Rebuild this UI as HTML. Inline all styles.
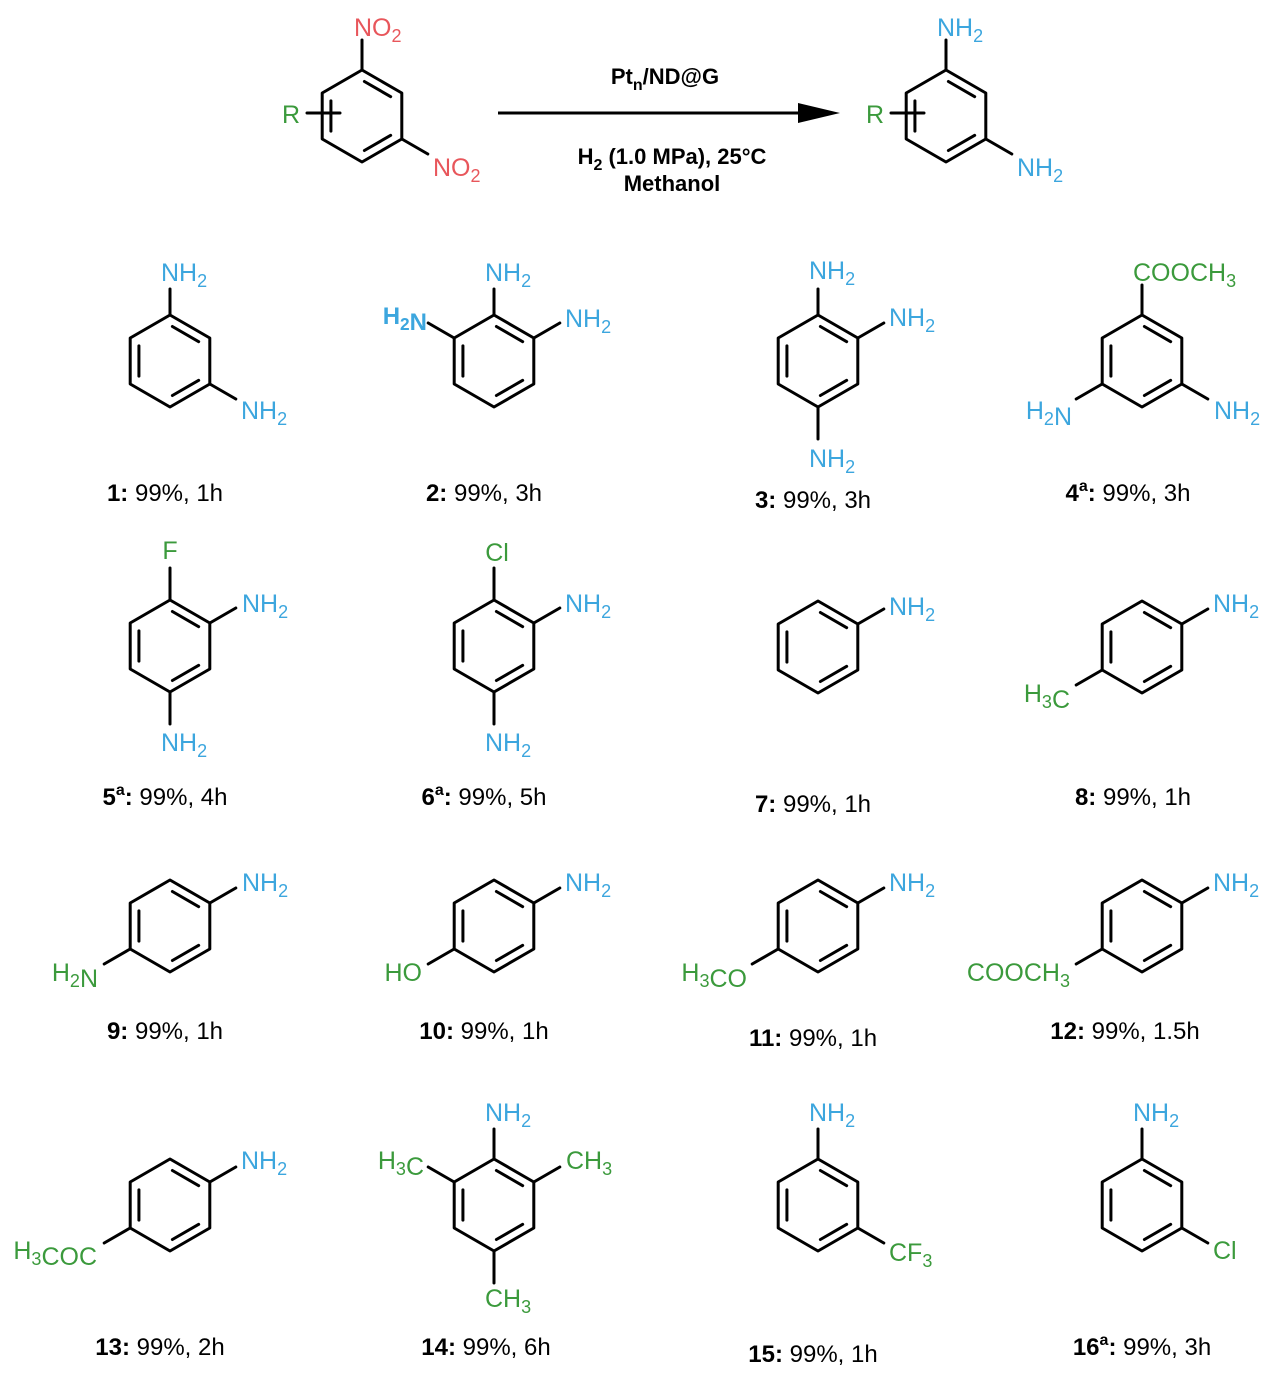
<!DOCTYPE html>
<html><head><meta charset="utf-8"><style>
html,body{margin:0;padding:0;background:#fff;}
svg{display:block;font-family:"Liberation Sans",Arial,sans-serif;}
</style></head><body>
<svg id="s" width="1278" height="1375" viewBox="0 0 1278 1375" xmlns="http://www.w3.org/2000/svg">
<line x1="498" y1="113" x2="803" y2="113" stroke="#000" stroke-width="3"/>
<path d="M798,103 L840,113 L798,123 Z" fill="#000"/>
<text x="665" y="84" font-size="22" font-weight="bold" text-anchor="middle">Pt<tspan font-size="16" dy="6">n</tspan><tspan dy="-6">/ND@G</tspan></text>
<text x="672" y="164" font-size="22" font-weight="bold" text-anchor="middle">H<tspan font-size="16" dy="6">2</tspan><tspan dy="-6"> (1.0 MPa), 25°C</tspan></text>
<text x="672" y="191" font-size="22" font-weight="bold" text-anchor="middle">Methanol</text>
<g id="g"></g>
</svg>
<script>
var B="#3ca6de",G="#3b9a3c",Rd="#e8565b";
var out="";
function L(x1,y1,x2,y2){out+='<line x1="'+x1+'" y1="'+y1+'" x2="'+x2+'" y2="'+y2+'" stroke="#000" stroke-width="3" stroke-linecap="round"/>';}
function V(cx,cy,i){var a=(-90+60*i)*Math.PI/180;return [cx+46*Math.cos(a),cy+46*Math.sin(a)];}
function ring(cx,cy,d){
  var pts=[];for(var i=0;i<6;i++)pts.push(V(cx,cy,i).map(function(v){return v.toFixed(1)}).join(','));
  out+='<polygon points="'+pts.join(' ')+'" fill="none" stroke="#000" stroke-width="3" stroke-linejoin="round"/>';
  (d||[0,2,4]).forEach(function(e){var a=V(cx,cy,e),b=V(cx,cy,(e+1)%6),k=0.78;
    L(cx+(a[0]-cx)*k+(b[0]-a[0])*0.06,cy+(a[1]-cy)*k+(b[1]-a[1])*0.06,cx+(b[0]-cx)*k-(b[0]-a[0])*0.06,cy+(b[1]-cy)*k-(b[1]-a[1])*0.06);});
}
function sub(cx,cy,i,len){var p=V(cx,cy,i),a=(-90+60*i)*Math.PI/180;L(p[0],p[1],p[0]+len*Math.cos(a),p[1]+len*Math.sin(a));}
function T(x,y,s,c,anc,fs,bold){fs=fs||25;
  var h='<text x="'+x+'" y="'+(y+9)+'" font-size="'+fs+'" fill="'+c+'" text-anchor="'+(anc||'start')+'"'+(bold?' font-weight="bold"':'')+'>';
  for(var i=0;i<s.length;i++){var ch=s[i];
    if(ch=='_'){h+='<tspan font-size="'+(fs*0.72)+'" dy="6">'+s[i+1]+'</tspan>';i++;h+='<tspan dy="-6"></tspan>';}
    else h+=ch;}
  out+=h+'</text>';}
function cap(x,y,n,rest){out+='<text x="'+x+'" y="'+(y+8)+'" font-size="24" text-anchor="middle"><tspan font-weight="bold">'+n+'</tspan>'+rest+'</text>';}
function capA(x,y,n,rest){out+='<text x="'+x+'" y="'+(y+8)+'" font-size="24" text-anchor="middle"><tspan font-weight="bold">'+n+'</tspan><tspan font-weight="bold" font-size="16" dy="-10">a</tspan><tspan dy="10" font-weight="bold">:</tspan>'+rest+'</text>';}

ring(362,116);sub(362,116,0,30);T(354,27,"NO_2",Rd);sub(362,116,2,30);T(433,167,"NO_2",Rd);
L(307,113,340,113);T(282,114,"R",G);
ring(946,116);sub(946,116,0,30);T(937,27,"NH_2",B);sub(946,116,2,30);T(1017,167,"NH_2",B);
L(891,113,924,113);T(866,114,"R",G);

ring(170,361);sub(170,361,0,26);T(161,272,"NH_2",B);sub(170,361,2,30);T(241,410,"NH_2",B);cap(165,493,"1:"," 99%, 1h");
ring(494,361);sub(494,361,0,26);T(485,272,"NH_2",B);sub(494,361,1,30);T(565,318,"NH_2",B);sub(494,361,5,30);T(427,315,"H_2N",B,"end",24,true);cap(484,493,"2:"," 99%, 3h");
ring(818,361);sub(818,361,0,26);T(809,270,"NH_2",B);sub(818,361,1,30);T(889,317,"NH_2",B);sub(818,361,3,32);T(809,458,"NH_2",B);cap(813,500,"3:"," 99%, 3h");
ring(1142,361);sub(1142,361,0,30);T(1133,272,"COOCH_3",G);sub(1142,361,4,30);T(1072,410,"H_2N",B,"end");sub(1142,361,2,30);T(1214,410,"NH_2",B);capA(1128,493,"4"," 99%, 3h");

ring(170,646);sub(170,646,0,32);T(170,550,"F",G,"middle");sub(170,646,1,30);T(242,603,"NH_2",B);sub(170,646,3,32);T(161,742,"NH_2",B);capA(165,797,"5"," 99%, 4h");
ring(494,646);sub(494,646,0,32);T(497,552,"Cl",G,"middle");sub(494,646,1,30);T(565,603,"NH_2",B);sub(494,646,3,32);T(485,742,"NH_2",B);capA(484,797,"6"," 99%, 5h");
ring(818,647);sub(818,647,1,30);T(889,606,"NH_2",B);cap(813,804,"7:"," 99%, 1h");
ring(1142,647);sub(1142,647,1,30);T(1213,603,"NH_2",B);sub(1142,647,4,30);T(1070,693,"H_3C",G,"end");cap(1133,797,"8:"," 99%, 1h");

ring(170,926);sub(170,926,1,30);T(242,882,"NH_2",B);sub(170,926,4,30);T(98,972,"H_2N",G,"end");cap(165,1031,"9:"," 99%, 1h");
ring(494,926);sub(494,926,1,30);T(565,882,"NH_2",B);sub(494,926,4,30);T(422,972,"HO",G,"end");cap(484,1031,"10:"," 99%, 1h");
ring(818,926);sub(818,926,1,30);T(889,882,"NH_2",B);sub(818,926,4,30);T(747,972,"H_3CO",G,"end");cap(813,1038,"11:"," 99%, 1h");
ring(1142,926);sub(1142,926,1,30);T(1213,882,"NH_2",B);sub(1142,926,4,30);T(1070,972,"COOCH_3",G,"end");cap(1125,1031,"12:"," 99%, 1.5h");

ring(170,1205);sub(170,1205,1,30);T(241,1160,"NH_2",B);sub(170,1205,4,30);T(97,1250,"H_3COC",G,"end");cap(160,1347,"13:"," 99%, 2h");
ring(494,1205);sub(494,1205,0,30);T(485,1112,"NH_2",B);sub(494,1205,5,30);T(424,1160,"H_3C",G,"end");sub(494,1205,1,30);T(566,1160,"CH_3",G);sub(494,1205,3,32);T(485,1298,"CH_3",G);cap(486,1347,"14:"," 99%, 6h");
ring(818,1205);sub(818,1205,0,30);T(809,1112,"NH_2",B);sub(818,1205,2,30);T(889,1252,"CF_3",G);cap(813,1354,"15:"," 99%, 1h");
ring(1142,1205);sub(1142,1205,0,30);T(1133,1112,"NH_2",B);sub(1142,1205,2,30);T(1213,1250,"Cl",G);capA(1142,1347,"16"," 99%, 3h");

document.getElementById("g").innerHTML=out;
</script>
</body></html>
